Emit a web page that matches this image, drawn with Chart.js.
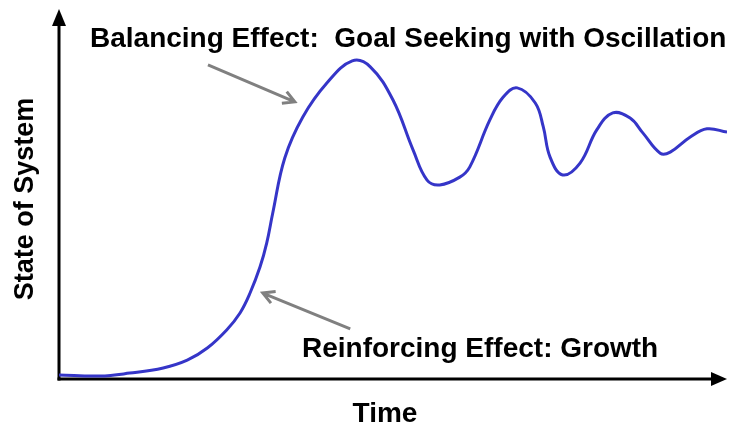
<!DOCTYPE html>
<html>
<head>
<meta charset="utf-8">
<title>State of System</title>
<script src="https://cdn.jsdelivr.net/npm/chart.js@4/dist/chart.umd.min.js"></script>
<style>
  html, body { margin: 0; padding: 0; background: #fff; }
  #wrap { width: 736px; height: 428px; position: relative; }
</style>
</head>
<body>
<div id="wrap"><canvas id="grafico"></canvas></div>
<script>
// Tiempo (eje x) y estado del sistema (eje y), en unidades 0..100
const tiempo = [0, 6.1, 10.6, 15.6, 19.2, 22.2, 25.1, 27.1, 28.6, 30.1, 31.1, 32.0, 33.8, 36.5, 40.1,
  43.9, 46.6, 50.0, 53.0, 55.1, 57.0, 60.0, 61.5, 64.5, 66.5, 68.6, 71.3, 72.5, 73.5, 75.4, 78.0,
  80.5, 82.9, 85.5, 87.4, 90.0, 91.5, 94.5, 97.0, 100];
const estado = [1.1, 0.8, 1.6, 3.0, 5.1, 8.4, 13.3, 17.9, 23.3, 30.4, 36.9, 45.0, 59.9, 71.0, 80.2,
  86.2, 84.6, 75.6, 62.1, 53.9, 52.6, 54.7, 57.5, 70.2, 76.4, 78.9, 74.8, 68.3, 60.2, 55.3, 58.5,
  67.5, 72.1, 70.7, 66.7, 61.2, 61.5, 65.6, 67.8, 66.9];

const tituloX = "Time";
const tituloY = "State of System";

// Notas con flecha: texto en píxeles, flecha en unidades de datos
const notas = [
  { texto: "Balancing Effect:  Goal Seeking with Oscillation", tx: 90, ty: 47,
    desde: [22.3, 85.1], hasta: [35.3, 75.1] },
  { texto: "Reinforcing Effect: Growth", tx: 302, ty: 357,
    desde: [43.6, 13.6], hasta: [30.5, 23.3] }
];

const FAMILIA = "'Liberation Sans', Arial, sans-serif";

// Flecha abierta (dos trazos) en la punta
function flechaAbierta(ctx, x1, y1, x2, y2) {
  const ang = Math.atan2(y2 - y1, x2 - x1);
  const largo = 13, apertura = 0.5;
  ctx.beginPath();
  ctx.moveTo(x1, y1);
  ctx.lineTo(x2, y2);
  ctx.moveTo(x2 - largo * Math.cos(ang - apertura), y2 - largo * Math.sin(ang - apertura));
  ctx.lineTo(x2, y2);
  ctx.lineTo(x2 - largo * Math.cos(ang + apertura), y2 - largo * Math.sin(ang + apertura));
  ctx.stroke();
}

// Ejes con punta de flecha, títulos y notas
const ejesYNotas = {
  id: "ejesYNotas",
  beforeDatasetsDraw(chart) {
    const { ctx, chartArea: a } = chart;
    ctx.save();
    ctx.strokeStyle = "#000";
    ctx.fillStyle = "#000";
    ctx.lineWidth = 3;
    ctx.lineCap = "butt";
    // eje y
    ctx.beginPath();
    ctx.moveTo(a.left, a.bottom + 1.5);
    ctx.lineTo(a.left, a.top + 14);
    ctx.stroke();
    ctx.beginPath();
    ctx.moveTo(a.left, a.top - 1);
    ctx.lineTo(a.left - 7, a.top + 16);
    ctx.lineTo(a.left + 7, a.top + 16);
    ctx.closePath();
    ctx.fill();
    // eje x
    ctx.beginPath();
    ctx.moveTo(a.left - 1.5, a.bottom);
    ctx.lineTo(a.right - 14, a.bottom);
    ctx.stroke();
    ctx.beginPath();
    ctx.moveTo(a.right, a.bottom);
    ctx.lineTo(a.right - 16, a.bottom - 7);
    ctx.lineTo(a.right - 16, a.bottom + 7);
    ctx.closePath();
    ctx.fill();
    ctx.restore();
  },
  afterDatasetsDraw(chart) {
    const { ctx, scales } = chart;
    ctx.save();
    ctx.fillStyle = "#000";
    ctx.textBaseline = "alphabetic";
    // títulos de los ejes
    ctx.font = "bold 28px " + FAMILIA;
    ctx.textAlign = "center";
    ctx.fillText(tituloX, 385, 422);
    ctx.save();
    ctx.font = "bold 27px " + FAMILIA;
    ctx.translate(33, 199);
    ctx.rotate(-Math.PI / 2);
    ctx.fillText(tituloY, 0, 0);
    ctx.restore();
    // notas
    ctx.font = "bold 28px " + FAMILIA;
    ctx.textAlign = "left";
    ctx.strokeStyle = "#808080";
    ctx.lineWidth = 3;
    notas.forEach(n => {
      ctx.fillText(n.texto, n.tx, n.ty);
      flechaAbierta(ctx,
        scales.x.getPixelForValue(n.desde[0]), scales.y.getPixelForValue(n.desde[1]),
        scales.x.getPixelForValue(n.hasta[0]), scales.y.getPixelForValue(n.hasta[1]));
    });
    ctx.restore();
  }
};

new Chart(document.getElementById("grafico"), {
  type: "line",
  data: {
    datasets: [{
      data: tiempo.map((t, i) => ({ x: t, y: estado[i] })),
      borderColor: "#3535c8",
      borderWidth: 3,
      pointRadius: 0,
      tension: 0.4,
      fill: false
    }]
  },
  options: {
    responsive: true,
    maintainAspectRatio: false,
    animation: false,
    events: [],
    layout: { padding: { left: 59, right: 9, top: 10, bottom: 49 } },
    plugins: { legend: { display: false }, tooltip: { enabled: false } },
    scales: {
      x: { type: "linear", min: 0, max: 100, display: false },
      y: { min: 0, max: 100, display: false }
    }
  },
  plugins: [ejesYNotas]
});
</script>
</body>
</html>
